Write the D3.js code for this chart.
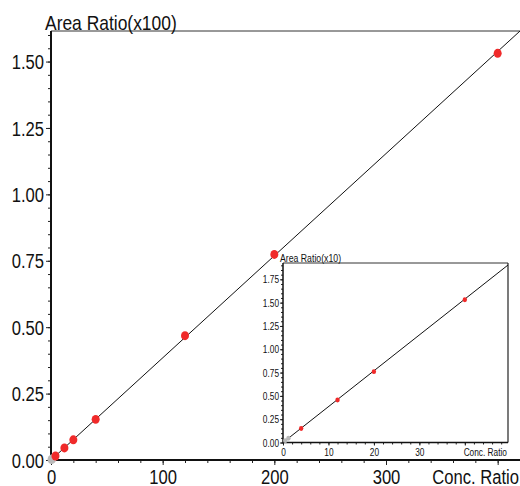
<!DOCTYPE html>
<html>
<head>
<meta charset="utf-8">
<script src="https://cdn.jsdelivr.net/npm/d3@7"></script>
<style>
  html, body { margin: 0; padding: 0; background: #fff; }
  svg { display: block; }
  text { font-family: "Liberation Sans", Arial, sans-serif; fill: #111; }
</style>
</head>
<body>
<svg id="chart" width="520" height="486"></svg>
<script>
// ---- data ----
const concRatio = [4, 12, 20, 40, 120, 200, 400];          // calibration levels
const areaRatio = [1.5, 4.55, 7.6, 15.3, 46.8, 77.4, 153.1]; // measured area ratio
const excludedConc = [0.5, 1.2];                            // grey (excluded) points
const excludedArea = [0.2, 0.45];
const slope = 0.3845;       // regression: areaRatio = slope * conc
const intercept = 0;

const mainYTicks = [0, 0.25, 0.5, 0.75, 1.0, 1.25, 1.5];   // in x100
const mainXTicks = [0, 100, 200, 300];
const insetYTicks = [0, 0.25, 0.5, 0.75, 1.0, 1.25, 1.5, 1.75]; // in x10
const insetXTicks = [0, 10, 20, 30];
const mainYTitle = "Area Ratio(x100)";
const insetYTitle = "Area Ratio(x10)";
const xTitle = "Conc. Ratio";

const RED = "#f02a2a", GREY = "#b9b9b9";
const CONDENSE = 0.83;
const svg = d3.select("#chart");

function condense(sel) {
  sel.each(function () {
    const t = d3.select(this);
    if (!t.text()) return;
    const len = this.getComputedTextLength();
    t.attr("textLength", len * CONDENSE).attr("lengthAdjust", "spacingAndGlyphs");
  });
}

function panel(opts) {
  const g = svg.append("g");
  const x = d3.scaleLinear().domain(opts.xDomain).range([opts.left, opts.right]);
  const y = d3.scaleLinear().domain(opts.yDomain).range([opts.bottom, opts.top]);
  const k = opts.scale;

  if (opts.fill) {
    g.append("rect").attr("x", opts.left).attr("y", opts.top)
      .attr("width", opts.right - opts.left).attr("height", opts.bottom - opts.top)
      .attr("fill", "#fff");
  }
  g.append("line").attr("x1", opts.left).attr("x2", opts.right)
    .attr("y1", opts.top).attr("y2", opts.top)
    .attr("stroke", "#333").attr("stroke-width", 1);
  if (opts.rightBorder) {
    g.append("line").attr("x1", opts.right).attr("x2", opts.right)
      .attr("y1", opts.top).attr("y2", opts.bottom)
      .attr("stroke", "#222").attr("stroke-width", 1.2);
  }

  // minor ticks
  const yMinor = d3.range(0, opts.yDomain[1] + 1e-9, opts.yMinorStep);
  const xMinor = d3.range(0, opts.xDomain[1] + 1e-9, opts.xMinorStep);
  g.append("g").attr("transform", `translate(${opts.left},0)`)
    .call(d3.axisLeft(y).tickValues(yMinor).tickSize(opts.minorLen).tickFormat("").tickSizeOuter(0))
    .call(a => a.select(".domain").remove())
    .selectAll("line").attr("stroke", "#222");
  g.append("g").attr("transform", `translate(0,${opts.bottom})`)
    .call(d3.axisBottom(x).tickValues(xMinor).tickSize(opts.minorLen).tickFormat("").tickSizeOuter(0))
    .call(a => a.select(".domain").remove())
    .selectAll("line").attr("stroke", "#222");

  // major y
  const ya = g.append("g").attr("transform", `translate(${opts.left},0)`)
    .call(d3.axisLeft(y).tickValues(opts.yTicks).tickSize(opts.majorLen)
      .tickPadding(opts.pad).tickFormat(d3.format(".2f")).tickSizeOuter(0));
  ya.select(".domain").remove();
  ya.selectAll("line").attr("stroke", "#222");
  ya.selectAll("text").attr("font-size", opts.font).attr("fill", "#111")
    .attr("font-family", null).attr("dy", "0.36em").call(condense);

  // major x
  const xa = g.append("g").attr("transform", `translate(0,${opts.bottom})`)
    .call(d3.axisBottom(x).tickValues(opts.xTicksAll).tickSize(opts.majorLen)
      .tickPadding(opts.xpad).tickFormat(d => opts.xTicks.includes(d) ? d3.format("d")(d) : "").tickSizeOuter(0));
  xa.select(".domain").remove();
  xa.selectAll("line").attr("stroke", "#222");
  xa.selectAll("text").attr("font-size", opts.font).attr("fill", "#111")
    .attr("font-family", null).attr("dy", "0.71em").call(condense);

  // axis lines
  g.append("line").attr("x1", opts.left).attr("x2", opts.left)
    .attr("y1", opts.top).attr("y2", opts.bottom + opts.axisW / 2)
    .attr("stroke", "#111").attr("stroke-width", opts.axisW);
  g.append("line").attr("x1", opts.left).attr("x2", opts.right)
    .attr("y1", opts.bottom).attr("y2", opts.bottom)
    .attr("stroke", "#111").attr("stroke-width", opts.axisW);

  // titles
  g.append("text").attr("x", opts.left - opts.titleDx).attr("y", opts.top - opts.titleDy)
    .attr("font-size", opts.titleFont).text(opts.yTitle).call(condense);
  g.append("text").attr("x", opts.right - 1).attr("y", opts.bottom + opts.xTitleDy)
    .attr("text-anchor", "end").attr("font-size", opts.font).text(xTitle).call(condense);

  // regression line, clipped to plot area
  const cid = "clip" + opts.id;
  svg.append("clipPath").attr("id", cid).append("rect")
    .attr("x", opts.left).attr("y", opts.top)
    .attr("width", opts.right - opts.left).attr("height", opts.bottom - opts.top);
  const xEnd = opts.xDomain[1];
  g.append("line").attr("clip-path", `url(#${cid})`)
    .attr("x1", x(0)).attr("y1", y(intercept / k))
    .attr("x2", x(xEnd)).attr("y2", y((intercept + slope * xEnd) / k))
    .attr("stroke", "#111").attr("stroke-width", 1);

  // points
  const pts = g.append("g");
  pts.selectAll("ellipse.ex").data(excludedConc.map((c, i) => [c, excludedArea[i]]))
    .join("ellipse").attr("cx", d => x(d[0])).attr("cy", d => y(d[1] / k))
    .attr("rx", opts.r).attr("ry", opts.r * 1.12).attr("fill", GREY);
  pts.selectAll("ellipse.pt").data(concRatio.map((c, i) => [c, areaRatio[i]]).filter(d => d[0] <= xEnd))
    .join("ellipse").attr("cx", d => x(d[0])).attr("cy", d => y(d[1] / k))
    .attr("rx", opts.r).attr("ry", opts.r * 1.12).attr("fill", RED);
}

// main chart
panel({
  id: "main", left: 51, right: 520, top: 31, bottom: 460,
  xDomain: [0, 420], yDomain: [0, 1.615], scale: 100,
  yTicks: mainYTicks, xTicks: mainXTicks, xTicksAll: [0, 100, 200, 300, 400],
  yMinorStep: 0.05, xMinorStep: 20, majorLen: 5, minorLen: 3, pad: 2, xpad: 4.5,
  font: 20, titleFont: 21, titleDx: 6, titleDy: 1, xTitleDy: 23.5, axisW: 2, r: 4, yTitle: mainYTitle
});

// inset chart
panel({
  id: "inset", left: 283, right: 508, top: 263, bottom: 442.5,
  xDomain: [0, 49.5], yDomain: [0, 1.925], scale: 10,
  yTicks: insetYTicks, xTicks: insetXTicks, xTicksAll: [0, 10, 20, 30, 40],
  yMinorStep: 0.05, xMinorStep: 2, majorLen: 3, minorLen: 2, pad: 1, xpad: 3,
  font: 10, titleFont: 10.5, titleDx: 3, titleDy: 1, xTitleDy: 13, axisW: 1.5, r: 2.2, yTitle: insetYTitle,
  rightBorder: true, fill: true
});
</script>
</body>
</html>
